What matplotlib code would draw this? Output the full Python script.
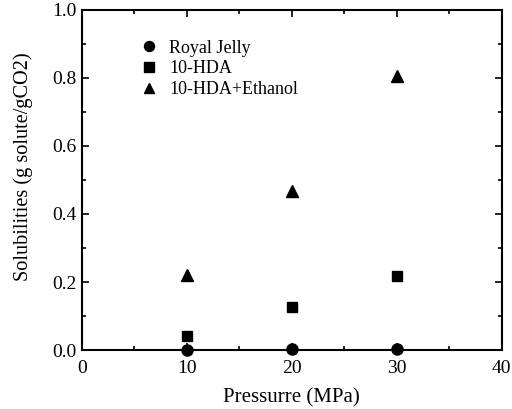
import matplotlib
matplotlib.use("Agg")
import matplotlib.pyplot as plt
from matplotlib.ticker import MultipleLocator

plt.rcParams['font.family'] = ['Liberation Serif', 'DejaVu Serif']

pressure = [10, 20, 30]
royal_jelly = [0.0, 0.002, 0.003]
hda = [0.041, 0.128, 0.217]
hda_ethanol = [0.221, 0.467, 0.806]

fig = plt.figure(figsize=(5.12, 4.09), dpi=100)
ax = fig.add_axes([0.16, 0.144, 0.82, 0.832])

ax.plot(pressure, royal_jelly, 'o', color='black', markersize=8, label='Royal Jelly', clip_on=False, zorder=5)
ax.plot(pressure, hda, 's', color='black', markersize=7.5, label='10-HDA', clip_on=False, zorder=5)
ax.plot(pressure, hda_ethanol, '^', color='black', markersize=8.5, label='10-HDA+Ethanol', clip_on=False, zorder=5)

ax.set_xlim(0, 40)
ax.set_ylim(0, 1.0)
ax.xaxis.set_major_locator(MultipleLocator(10))
ax.xaxis.set_minor_locator(MultipleLocator(5))
ax.yaxis.set_major_locator(MultipleLocator(0.2))
ax.yaxis.set_minor_locator(MultipleLocator(0.1))
ax.yaxis.set_major_formatter(plt.FuncFormatter(lambda v, p: f"{v:.1f}"))
ax.tick_params(which='both', direction='in', top=True, right=True, width=1.2, labelsize=14)
ax.tick_params(axis='x', pad=7)
ax.tick_params(axis='y', pad=4)
ax.tick_params(which='major', length=5)
ax.tick_params(which='minor', length=3)
for s in ax.spines.values():
    s.set_linewidth(1.5)

ax.set_xlabel('Pressurre (MPa)', fontsize=15, labelpad=8)
ax.set_ylabel('Solubilities (g solute/gCO2)', fontsize=14.6)
ax.yaxis.set_label_coords(-0.117, 0.538)

leg = ax.legend(loc='upper left', bbox_to_anchor=(0.1, 0.96), frameon=False,
                prop={'size': 13},
                handletextpad=0.6, labelspacing=0.2, handlelength=1.0, markerscale=0.9)

fig.savefig('out.png', dpi=100)
